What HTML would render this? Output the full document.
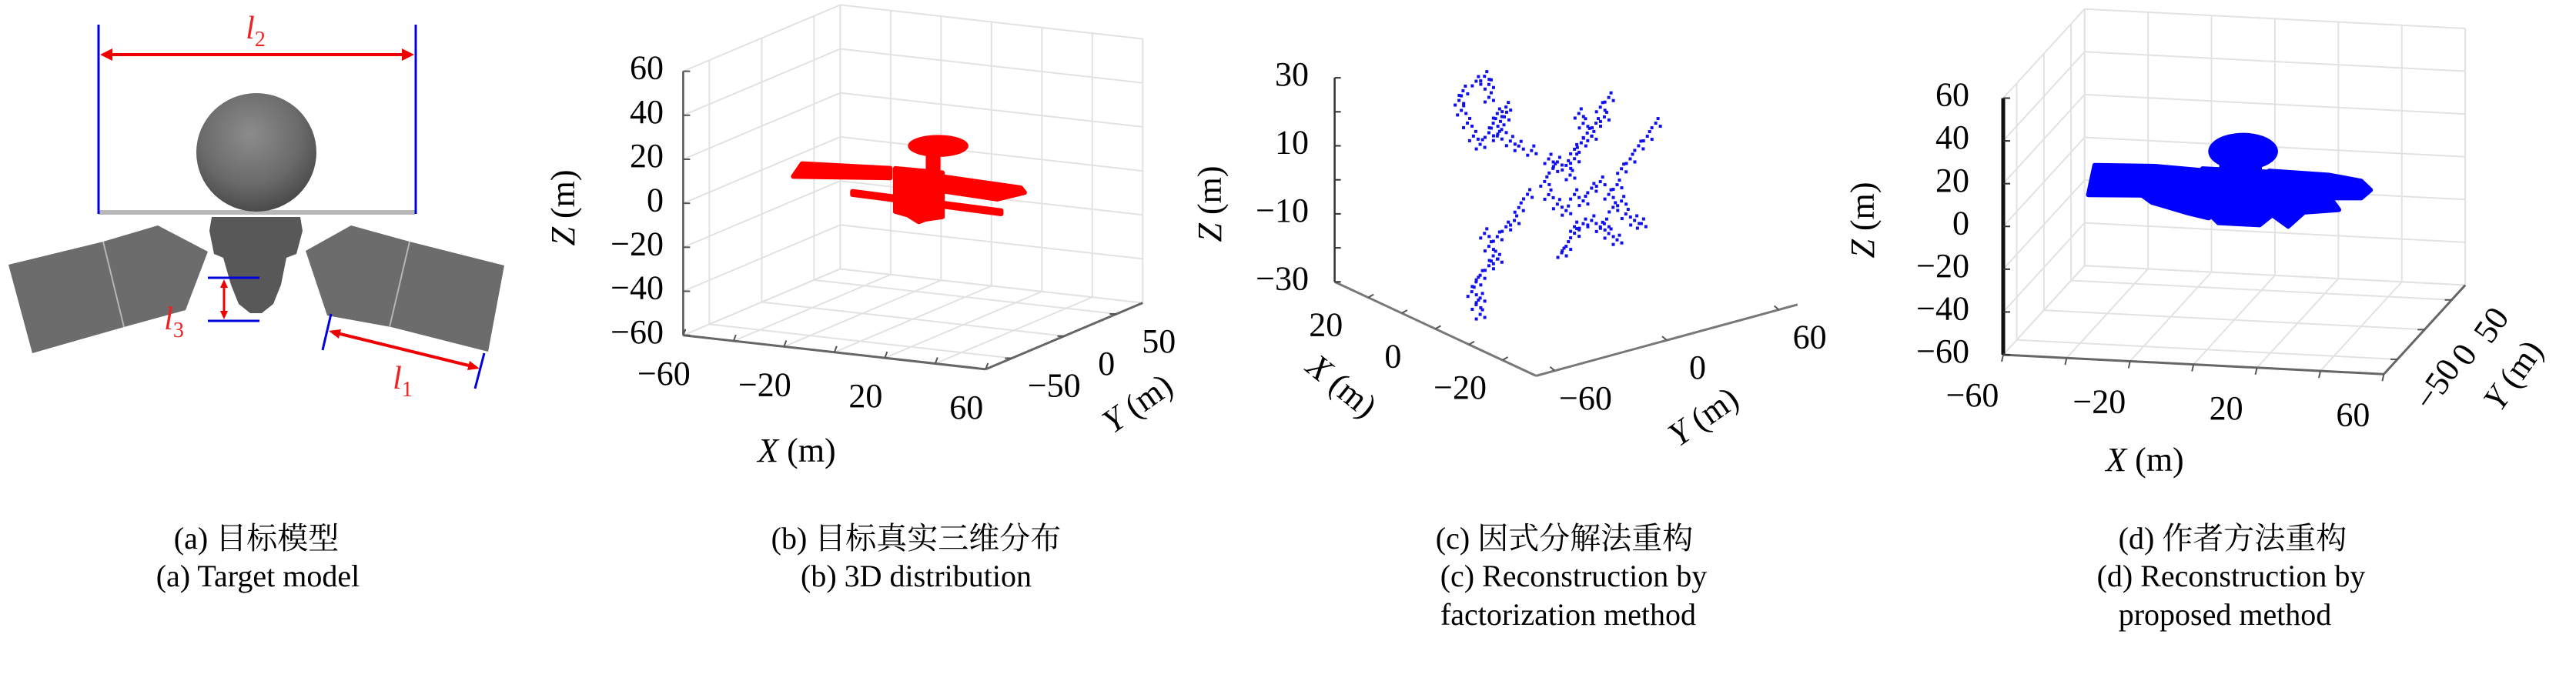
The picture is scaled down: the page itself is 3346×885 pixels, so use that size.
<!DOCTYPE html>
<html><head><meta charset="utf-8"><title>Satellite reconstruction figure</title>
<style>
html,body{margin:0;padding:0;background:#fff;}
svg, svg text{font-family:"Liberation Serif","DejaVu Serif","Noto Serif CJK SC",serif;}
</style></head>
<body>
<svg id="fig" xmlns="http://www.w3.org/2000/svg" width="3346" height="880" viewBox="0 0 3346 880" font-family="Liberation Serif, DejaVu Serif, Noto Serif CJK SC, serif">
<defs>
<radialGradient id="headGrad" cx="0.45" cy="0.35" r="0.7">
<stop offset="0" stop-color="#8c8c8c"/><stop offset="0.6" stop-color="#6a6a6a"/><stop offset="1" stop-color="#444"/>
</radialGradient>
</defs>
<!-- Panel a: target model -->
<g>
  <polygon points="11,344 134,314 205,293 270,327 241,403 161,425 42,459" fill="#6c6c6c"/>
  <line x1="134" y1="314" x2="161" y2="425" stroke="#b5b5b5" stroke-width="2"/>
  <polygon points="397,326 456,293 532,314 655,345 634,457 508,425 425,410" fill="#6c6c6c"/>
  <line x1="532" y1="314" x2="506" y2="425" stroke="#b5b5b5" stroke-width="2"/>
  <polygon points="275,282 390,282 393,300 385,330 372,335 365,370 355,395 340,407 325,407 310,395 300,370 290,335 278,330 272,300" fill="#585858"/>
  <rect x="128" y="273" width="411" height="6" fill="#b8b8b8"/>
  <ellipse cx="333" cy="198" rx="78" ry="77" fill="url(#headGrad)"/>
  <line x1="128" y1="32" x2="128" y2="278" stroke="#0000dd" stroke-width="3"/>
  <line x1="540" y1="32" x2="540" y2="278" stroke="#0000dd" stroke-width="3"/>
  <line x1="140" y1="71" x2="528" y2="71" stroke="#ee0000" stroke-width="4"/>
  <polygon points="130,71 146,63 146,79" fill="#ee0000"/>
  <polygon points="538,71 522,63 522,79" fill="#ee0000"/>
  <text x="332" y="50" font-size="42" font-style="italic" fill="#ee2222" text-anchor="middle">l<tspan font-size="28" dy="10" font-style="normal">2</tspan></text>
  <line x1="270" y1="361" x2="337" y2="361" stroke="#0000dd" stroke-width="3"/>
  <line x1="270" y1="417" x2="337" y2="417" stroke="#0000dd" stroke-width="3"/>
  <line x1="291" y1="366" x2="291" y2="412" stroke="#ee0000" stroke-width="3"/>
  <polygon points="291,363 286,374 296,374" fill="#ee0000"/>
  <polygon points="291,415 286,404 296,404" fill="#ee0000"/>
  <text x="226" y="428" font-size="42" font-style="italic" fill="#ee2222" text-anchor="middle">l<tspan font-size="28" dy="10" font-style="normal">3</tspan></text>
  <line x1="430" y1="408" x2="419" y2="455" stroke="#0000dd" stroke-width="3"/>
  <line x1="629" y1="459" x2="617" y2="505" stroke="#0000dd" stroke-width="3"/>
  <line x1="434" y1="432" x2="617" y2="477" stroke="#ee0000" stroke-width="4"/>
  <polygon points="427,430 443,428 440,440" fill="#ee0000"/>
  <polygon points="623,479 607,481 610,469" fill="#ee0000"/>
  <text x="523" y="505" font-size="42" font-style="italic" fill="#ee2222" text-anchor="middle">l<tspan font-size="28" dy="10" font-style="normal">1</tspan></text>
</g>
<g id="plots"></g>
<!-- captions -->
<g font-size="40" fill="#000" text-anchor="middle">
  <text x="333" y="713">(a) 目标模型</text>
  <text x="335" y="762">(a) Target model</text>
  <text x="1190" y="713">(b) 目标真实三维分布</text>
  <text x="1190" y="762">(b) 3D distribution</text>
  <text x="2032" y="713">(c) 因式分解法重构</text>
  <text x="2044" y="762">(c) Reconstruction by</text>
  <text x="2037" y="812">factorization method</text>
  <text x="2900" y="713">(d) 作者方法重构</text>
  <text x="2898" y="762">(d) Reconstruction by</text>
  <text x="2890" y="812">proposed method</text>
</g>
</svg>
<script>
// ---------- data ----------
const xTicksB = [-60,-40,-20,0,20,40,60];
const xLabelsB = [-60,-20,20,60];
const yTicksB = [-50,0,50];
const zTicksB = [-60,-40,-20,0,20,40,60];
const xTicksC = [20,10,0,-10,-20];
const xLabelsC = [20,0,-20];
const yTicksC = [-60,0,60];
const zTicksC = [30,20,10,0,-10,-20,-30];
const zLabelsC = [30,10,-10,-30];
// true model (b) components in data units (x,z) at y=0
const redDish = [10,20,12,5]; // cx, cz, rx, rz
const redLeftPanel = [[-44,5],[-9,7.4],[-9,3],[-47.5,-1.3]];
const redRightPanel = [[11.7,6.3],[42.8,5.2],[44.3,3.2],[33.5,-1.2],[11.7,-0.3]];
const redBody = [[-7,7.6],[11.7,8],[11.7,-12],[5,-14],[2.3,-15.5],[-2,-13],[-7,-12]];
const redNeck = [[6,7],[10,7],[10,16],[6,16]];
const redBar = [[-24,-5],[35,-6.2],[35,-7.7],[-24,-6.5]];
// factorization reconstruction (c) points (x,z) at y=0
const cloudX = [24.3,26.8,30.7,31.9,31.2,29.4,27.6,25.6,23,21.7,20.5,23,23,17.9,18.4,19.2,20.5,16.6,14.1,10.3,
 5.2,2.6,3.9,0,-2.5,-1.2,6.4,5.2,2.6,0,-2.5,-5.1,-7.6,-10.2,-12.7,-15.2,-16.5,-14,-7.6,-10.2,-12.7,-15.2,-11.4,-5.1,-2.5,-20.4,-22.4,-17.8,
 -3.8,-5.1,-6.3,-8.9,-11.4,-12.7,-10.2,-7.6,-4.5,-2.5,
 -26.7,-24.2,-21.6,-19.1,-16.5,
 11.5,14.1,15.4,17.9,20.5,23,21.7,23,25.6,26.8,28.1,25.6,26.8,25.6,20.5,24.3,-2.5,0,1.3];
const cloudZ = [22.6,20,15.4,12,9.4,6.5,3.5,2,6.6,10,13.4,17,20.8,16.5,13.4,9.3,6.8,7.1,6.8,7.2,
 7.1,7.4,4.9,7.6,10.7,5.3,-0.1,-3.4,-5,-5.7,0.2,-0.5,4.4,7.5,4.9,8.9,4.7,1.7,-5.1,-5.8,-6.6,-7.3,-4.3,-7.2,-9.3,0.8,0.8,1.5,
 24.6,22.3,20,24.1,27.1,33.4,29.4,19.7,16.3,13.5,
 32.3,27.3,23.3,18.3,14.2,
 -6.2,-11.3,-15.7,-18.7,-22.8,-26.8,-29,-32.5,-36.5,-39,-42.5,-43.2,-45.7,-48,-29.4,-23.6,-11.2,-16.2,-18.7];
// proposed method (d) components (x,z) at y=0
const blueDish = [2.8,19,11,8.7];
const blueLeftWing = [[-46,-5],[-30,-4],[-8,-3],[-8,9],[-25,10],[-44,9]];
const blueRightWing = [[11,10.5],[30,10],[40,8],[43,4],[40,0],[11,-2]];
const blueBody = [[-10,10],[12,10],[12,-10],[8,-15],[-5,-15],[-10,-8]];
const blueNeck = [[-4,8],[8,8],[8,14],[-4,14]];
const blueLowerLeft = [[-30,-3],[-8,-3],[-8,-13],[-15,-11],[-26,-7]];
const blueLowerRight = [[12,-2],[31,-2],[33,-6],[22,-8],[17,-15],[12,-10]];

// ---------- axis/projection functions ----------
function projB(x,y,z){return [887.4+(x+60)*3.274+(y+75)*1.36, 435.7+(x+60)*0.368-(y+75)*0.575-(z+60)*2.859];}
function projD(x,y,z){return [2602+(x+60)*4.12+(y+75)*0.705, 461+(x+60)*0.2105-(y+75)*0.772-(z+60)*2.779];}
function projC(x,y,z){return [1733.6+(30-x)*4.36+(y+70)*2.426, 366.3+(30-x)*2.035-(y+70)*0.661-(z+30)*4.42];}

const NS='http://www.w3.org/2000/svg';
const FONT='"Liberation Serif","DejaVu Serif",serif';
const root=document.getElementById('plots');
function group(parent,name){const g=document.createElementNS(NS,'g');parent.appendChild(g);
 
 
 return g;}
function seg(parent,a,b,color,w,name){const e=document.createElementNS(NS,'line');parent.appendChild(e);
 e.setAttribute('x1',a[0]);e.setAttribute('y1',a[1]);e.setAttribute('x2',b[0]);e.setAttribute('y2',b[1]);
 e.setAttribute('stroke',color);e.setAttribute('stroke-width',w);
 
 
 return e;}
function label(parent,x,y,str,name,anchor,rot){const t=document.createElementNS(NS,'text');parent.appendChild(t);
 t.setAttribute('x',x);t.setAttribute('y',y);t.setAttribute('font-size','44');t.setAttribute('font-family',FONT);
 t.setAttribute('text-anchor',anchor||'middle');t.setAttribute('dominant-baseline','middle');
 if(rot)t.setAttribute('transform','rotate('+rot+' '+x+' '+y+')');
 t.textContent=String(str).replace('-','\u2212');
 
 
 return t;}
function axisTitle(parent,x,y,letter,name,rot){const t=document.createElementNS(NS,'text');parent.appendChild(t);
 t.setAttribute('x',x);t.setAttribute('y',y);t.setAttribute('font-size','44');t.setAttribute('text-anchor','middle');
 t.setAttribute('font-family',FONT);t.setAttribute('dominant-baseline','middle');
 if(rot)t.setAttribute('transform','rotate('+rot+' '+x+' '+y+')');
 const s=document.createElementNS(NS,'tspan');s.setAttribute('font-style','italic');s.textContent=letter;t.appendChild(s);
 const s2=document.createElementNS(NS,'tspan');s2.textContent=' (m)';t.appendChild(s2);
 
 
 return t;}
function poly(parent,P,pts,color,name){const e=document.createElementNS(NS,'polygon');parent.appendChild(e);
 e.setAttribute('points',pts.map(p=>P(p[0],0,p[1]).join(',')).join(' '));
 e.setAttribute('fill',color);e.setAttribute('stroke',color);e.setAttribute('stroke-width','6');e.setAttribute('stroke-linejoin','round');
 
 
 return e;}
function ell(parent,P,d,sx,sz,color,name){const c=P(d[0],0,d[1]);const e=document.createElementNS(NS,'ellipse');parent.appendChild(e);
 e.setAttribute('cx',c[0]);e.setAttribute('cy',c[1]);e.setAttribute('rx',d[2]*sx);e.setAttribute('ry',d[3]*sz);e.setAttribute('fill',color);
 
 
 return e;}

function box(parent,P,xt,yt,zt,xr,yr,zr){
 const g=group(parent,'grid');const gc='#e2e2e2',gw=2;
 const xs=xt, ys=[yr[0]].concat(yt,[yr[1]]), zs=zt;
 xs.forEach(x=>{seg(g,P(x,yr[1],zr[0]),P(x,yr[1],zr[1]),gc,gw,'back-wall-gridline');seg(g,P(x,yr[0],zr[0]),P(x,yr[1],zr[0]),gc,gw,'floor-gridline');});
 zs.forEach(z=>{seg(g,P(xr[0],yr[1],z),P(xr[1],yr[1],z),gc,gw,'back-wall-gridline');seg(g,P(xr[0],yr[0],z),P(xr[0],yr[1],z),gc,gw,'side-wall-gridline');});
 ys.forEach(y=>{seg(g,P(xr[0],y,zr[0]),P(xr[0],y,zr[1]),gc,gw,'side-wall-gridline');seg(g,P(xr[0],y,zr[0]),P(xr[1],y,zr[0]),gc,gw,'floor-gridline');});
}

// ---------- panel b ----------
(function(){
 const g=group(root,'panel-b-true-distribution');
 box(g,projB,xTicksB,yTicksB,zTicksB,[-60,60],[-75,75],[-60,60]);
 const a=group(g,'axes');
 seg(a,projB(-60,-75,-60),projB(-60,-75,60),'#555',2.5,'z-axis');
 seg(a,projB(-60,-75,-60),projB(60,-75,-60),'#666',3,'x-axis');
 seg(a,projB(60,-75,-60),projB(60,75,-60),'#666',3,'y-axis');
 zTicksB.forEach(z=>{const p=projB(-60,-75,z);seg(a,p,[p[0]+9,p[1]],'#555',2,'z-tick');label(a,862,p[1],z,'z-tick-label','end');});
 xTicksB.forEach(x=>{const p=projB(x,-75,-60);seg(a,p,[p[0]+3,p[1]-8],'#555',2,'x-tick');});
 xLabelsB.forEach(x=>{const p=projB(x,-75,-60);label(a,p[0]-25,p[1]+54,x,'x-tick-label');});
 yTicksB.forEach(y=>{const p=projB(60,y,-60);seg(a,p,[p[0]-9,p[1]],'#555',2,'y-tick');label(a,p[0]+55,p[1]+40,y,'y-tick-label');});
 axisTitle(a,1035,590,'X','x-axis-title');
 axisTitle(a,1480,528,'Y','y-axis-title',-35);
 axisTitle(a,736,270,'Z','z-axis-title',-90);
 const s=group(g,'true-model-points');const c='#ff0000';
 poly(s,projB,redLeftPanel,c,'left-panel-points');
 poly(s,projB,redRightPanel,c,'right-panel-points');
 poly(s,projB,redBar,c,'lower-bar-points');
 poly(s,projB,redBody,c,'body-points');
 poly(s,projB,redNeck,c,'neck-points');
 ell(s,projB,redDish,3.274,2.859,c,'dish-points');
})();

// ---------- panel c ----------
(function(){
 const g=group(root,'panel-c-factorization');
 const a=group(g,'axes');
 seg(a,projC(30,-70,-30),projC(30,-70,30),'#333',2.5,'z-axis');
 seg(a,projC(30,-70,-30),projC(-30,-70,-30),'#777',3,'x-axis');
 seg(a,projC(-30,-70,-30),projC(-30,70,-30),'#777',3,'y-axis');
 zTicksC.forEach(z=>{const p=projC(30,-70,z);seg(a,p,[p[0]+8,p[1]],'#333',2,'z-tick');});
 zLabelsC.forEach(z=>{const p=projC(30,-70,z);label(a,1700,p[1],z,'z-tick-label','end');});
 xTicksC.forEach(x=>{const p=projC(x,-70,-30);seg(a,p,[p[0]+7,p[1]-4],'#555',2,'x-tick');});
 xLabelsC.forEach(x=>{const p=projC(x,-70,-30);label(a,p[0]-55,p[1]+40,x,'x-tick-label');});
 yTicksC.forEach(y=>{const p=projC(-30,y,-30);seg(a,p,[p[0]-6,p[1]-5],'#555',2,'y-tick');label(a,p[0]+40,p[1]+40,y,'y-tick-label');});
 axisTitle(a,1740,505,'X','x-axis-title',39);
 axisTitle(a,2215,545,'Y','y-axis-title',-35);
 axisTitle(a,1576,265,'Z','z-axis-title',-90);
 const s=group(g,'reconstructed-points');
 const offs=[[0,0],[6,4],[-5,6],[3,-6]];
 for(let i=0;i<cloudX.length;i++){
  const p=projC(cloudX[i],0,cloudZ[i]);
  offs.forEach(o=>{const r=document.createElementNS(NS,'rect');s.appendChild(r);
   r.setAttribute('x',p[0]+o[0]-2);r.setAttribute('y',p[1]+o[1]-2);r.setAttribute('width',4);r.setAttribute('height',4);r.setAttribute('fill','#1010ee');
   
   });
 }
})();

// ---------- panel d ----------
(function(){
 const g=group(root,'panel-d-proposed');
 box(g,projD,xTicksB,yTicksB,zTicksB,[-60,60],[-75,75],[-60,60]);
 const a=group(g,'axes');
 seg(a,projD(-60,-75,-60),projD(-60,-75,60),'#111',5,'z-axis');
 seg(a,projD(-60,-75,-60),projD(60,-75,-60),'#666',3,'x-axis');
 seg(a,projD(60,-75,-60),projD(60,75,-60),'#666',3,'y-axis');
 zTicksB.forEach(z=>{const p=projD(-60,-75,z);seg(a,p,[p[0]+9,p[1]],'#333',2,'z-tick');label(a,2558,p[1],z,'z-tick-label','end');});
 xTicksB.forEach(x=>{const p=projD(x,-75,-60);seg(a,p,[p[0]-2,p[1]+9],'#555',2,'x-tick');});
 xLabelsB.forEach(x=>{const p=projD(x,-75,-60);label(a,p[0]-40,p[1]+57,x,'x-tick-label');});
 yTicksB.forEach(y=>{const p=projD(60,y,-60);seg(a,p,[p[0]-9,p[1]],'#555',2,'y-tick');label(a,p[0]+55,p[1]+35,y,'y-tick-label',null,-55);});
 axisTitle(a,2786,602,'X','x-axis-title');
 axisTitle(a,3268,490,'Y','y-axis-title',-55);
 axisTitle(a,2424,286,'Z','z-axis-title',-90);
 const s=group(g,'reconstructed-points');const c='#0000ff';
 poly(s,projD,blueLeftWing,c,'left-wing-points');
 poly(s,projD,blueRightWing,c,'right-wing-points');
 poly(s,projD,blueLowerLeft,c,'lower-left-points');
 poly(s,projD,blueLowerRight,c,'lower-right-points');
 poly(s,projD,blueBody,c,'body-points');
 poly(s,projD,blueNeck,c,'neck-points');
 ell(s,projD,blueDish,4.12,2.779,c,'dish-points');
})();
</script>
</body></html>
